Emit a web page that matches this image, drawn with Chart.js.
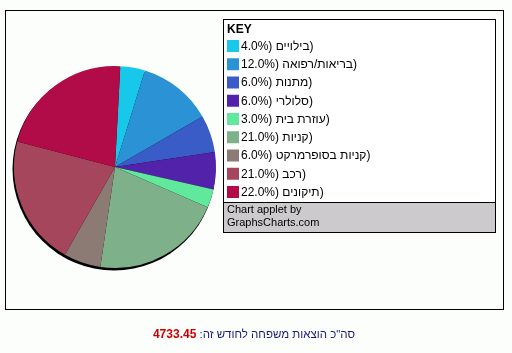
<!DOCTYPE html>
<html>
<head>
<meta charset="utf-8">
<script src="https://cdn.jsdelivr.net/npm/chart.js@4"></script>
<style>
  body { margin: 0; background: #fcfefc; }
  #wrap { position: relative; width: 512px; height: 353px; }
  #total {
    position: absolute; left: 0; width: 508px; top: 327px;
    text-align: center; direction: rtl;
    font: 11.5px "Liberation Sans", Arial, sans-serif; color: #1a1a7a;
  }
  #total b { color: #d00000; font-size: 12px; }
</style>
</head>
<body>
<div id="wrap">
  <canvas id="pie" width="512" height="353"></canvas>
  <div id="total">סה"כ הוצאות משפחה לחודש זה: <b>4733.45</b></div>
</div>
<script>
const categories = ["בילויים", "בריאות/רפואה", "מתנות", "סלולרי", "עוזרת בית", "קניות", "קניות בסופרמרקט", "רכב", "תיקונים"];
const percents = [4.0, 12.0, 6.0, 6.0, 3.0, 21.0, 6.0, 21.0, 22.0];
const colors = ["#18c8ea", "#2c92d6", "#3a5cc6", "#5222aa", "#60e89c", "#7eb189", "#8c7b75", "#a6465c", "#b20c48"];

// frame, key box and pie shadow
const decor = {
  id: "decor",
  beforeDraw(chart) {
    const c = chart.ctx;
    c.save();
    c.fillStyle = "#fcfefc";
    c.fillRect(0, 0, 512, 353);
    c.strokeStyle = "#000";
    c.lineWidth = 1;
    c.strokeRect(5.5, 10.5, 498, 299);
    c.fillStyle = "#fff";
    c.fillRect(223.5, 19.5, 272, 213);
    c.fillStyle = "#cdcacd";
    c.fillRect(223.5, 202.5, 272, 30);
    c.beginPath();
    c.moveTo(223.5, 202.5); c.lineTo(495.5, 202.5);
    c.stroke();
    c.strokeRect(223.5, 19.5, 272, 213);
    c.restore();
  },
  beforeDatasetsDraw(chart) {
    const arc = chart.getDatasetMeta(0).data[0];
    const c = chart.ctx;
    c.save();
    c.fillStyle = "#000";
    c.beginPath();
    c.arc(arc.x - 1, arc.y + 2, arc.outerRadius + 0.5, 0, Math.PI * 2);
    c.fill();
    c.restore();
  },
  afterDraw(chart) {
    const c = chart.ctx;
    c.save();
    c.textBaseline = "middle";
    c.fillStyle = "#000";
    c.font = "bold 12px 'Liberation Sans', Arial, sans-serif";
    c.fillText("KEY", 227, 30);
    c.font = "12px 'Liberation Sans', Arial, sans-serif";
    chart.data.labels.forEach((lab, i) => {
      const y = 40 + i * 18.25;
      c.fillStyle = colors[i];
      c.fillRect(227, y, 12, 12);
      c.fillStyle = "#000";
      // the applet shows "<pct>) <label>)" left to right, so draw it in pieces
      let x = 241;
      const parts = [percents[i].toFixed(1) + "%) ", lab, ")"];
      parts.forEach(p => {
        c.fillText(p, x, y + 6.5);
        x += c.measureText(p).width;
      });
    });
    c.font = "11px 'Liberation Sans', Arial, sans-serif";
    c.fillText("Chart applet by", 227, 210);
    c.fillText("GraphsCharts.com", 227, 223);
    c.restore();
  }
};

new Chart(document.getElementById("pie"), {
  type: "pie",
  data: {
    labels: categories,
    datasets: [{
      data: percents,
      backgroundColor: colors,
      borderWidth: 0
    }]
  },
  options: {
    responsive: false,
    animation: false,
    rotation: 3,
    layout: { padding: { left: 14, top: 66, right: 296, bottom: 85 } },
    plugins: {
      legend: { display: false },
      tooltip: { enabled: false }
    }
  },
  plugins: [decor]
});
</script>
</body>
</html>
